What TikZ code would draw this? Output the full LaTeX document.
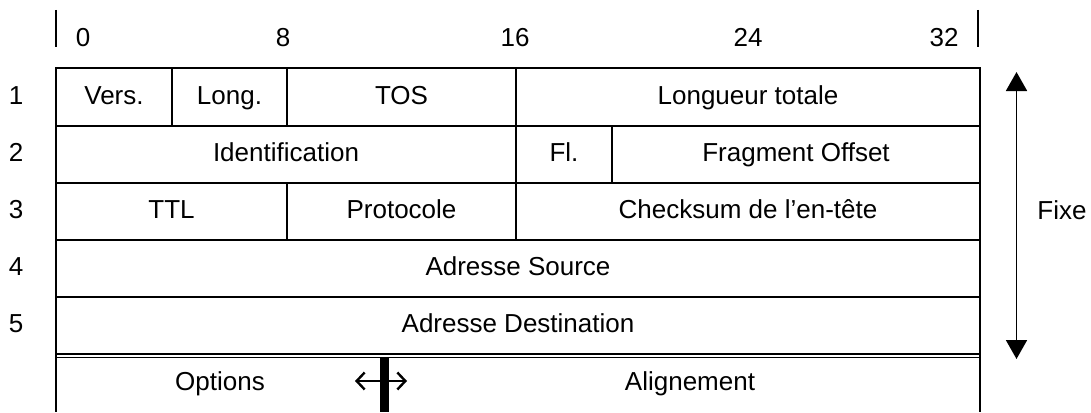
\documentclass[tikz,border=0pt]{standalone}
\usepackage{fontspec}
\setmainfont{Liberation Sans}
\usetikzlibrary{arrows.meta}
\tikzset{
  ln/.style={line width=1.8pt},
  cell/.style={draw, line width=1.8pt, inner sep=0pt, text height=18.7pt, text depth=4pt},
  lbl/.style={inner sep=0pt, text height=18.7pt, text depth=4pt},
  num/.style={inner sep=0pt, text height=18.7pt, text depth=0pt},
}
\begin{document}
\begin{tikzpicture}[x=1pt,y=-1pt,font=\fontsize{26}{30}\selectfont]
\useasboundingbox (0,0) rectangle (1091,412);
% bit ruler
\draw[ln] (56,10) -- (56,47);
\draw[ln] (978,10) -- (978,47);
\node[num] (b0) at (83,37) {0};
\node[num] (b8) at (283,37) {8};
\node[num] (b16) at (515,37) {16};
\node[num] (b24) at (748,37) {24};
\node[num] (b32) at (944,37) {32};
% row numbers
\node[num] (r1) at (16,95) {1};
\node[num] (r2) at (16,152.5) {2};
\node[num] (r3) at (16,209.5) {3};
\node[num] (r4) at (16,266.5) {4};
\node[num] (r5) at (16,323.5) {5};
% row 1
\node[cell, minimum width=116, minimum height=58] (vers) at (114,97) {Vers.};
\node[cell, minimum width=115, minimum height=58] (long) at (229.5,97) {Long.};
\node[cell, minimum width=229, minimum height=58] (tos) at (401.5,97) {TOS};
\node[cell, minimum width=464, minimum height=58] (lt) at (748,97) {Longueur totale};
% row 2
\node[cell, minimum width=460, minimum height=57] (ident) at (286,154.5) {Identification};
\node[cell, minimum width=96, minimum height=57] (fl) at (564,154.5) {Fl.};
\node[cell, minimum width=368, minimum height=57] (fo) at (796,154.5) {Fragment Offset};
% row 3
\node[cell, minimum width=231, minimum height=57] (ttl) at (171.5,211.5) {TTL};
\node[cell, minimum width=229, minimum height=57] (proto) at (401.5,211.5) {Protocole};
\node[cell, minimum width=464, minimum height=57] (check) at (748,211.5) {Checksum de l’en-tête};
% row 4, 5
\node[cell, minimum width=924, minimum height=57] (src) at (518,268.5) {Adresse Source};
\node[cell, minimum width=924, minimum height=57] (dst) at (518,325.5) {Adresse Destination};
% row 6
\draw[ln] (56,354) -- (56,412);
\draw[ln] (980,354) -- (980,412);
\draw[line width=1.2pt] (56,354) -- (980,354);
\draw[line width=1.2pt] (56,357.5) -- (980,357.5);
\fill (379.5,357) rectangle (388.5,412);
\coordinate (barL) at (379.5,381);
\coordinate (barR) at (388.5,381);
\coordinate (tipL) at (355,381);
\coordinate (tipR) at (407,381);
\draw[line width=2.4pt, -{Straight Barb[length=8pt,width=17pt,line width=2.4pt]}] (barL) -- (tipL);
\draw[line width=2.4pt, -{Straight Barb[length=8pt,width=17pt,line width=2.4pt]}] (barR) -- (tipR);
\node[lbl] (opt) at (220,383) {Options};
\node[lbl] (align) at (690,383) {Alignement};
% Fixe arrow
\coordinate (fixT) at (1016.5,72);
\coordinate (fixB) at (1016.5,359);
\draw[ln, {Triangle[length=19pt,width=21pt]}-{Triangle[length=19pt,width=21pt]}] (fixT) -- (fixB);
\node[lbl] (fixe) at (1062,212) {Fixe};
\end{tikzpicture}
\end{document}
